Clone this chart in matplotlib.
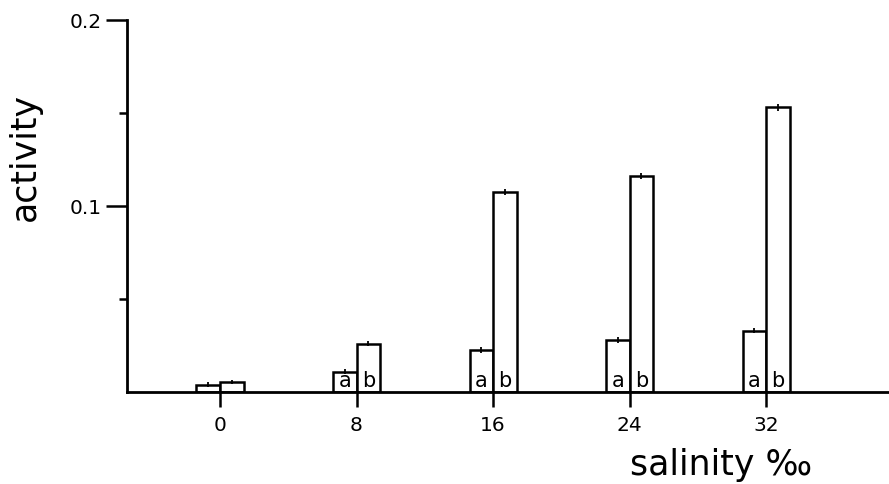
import matplotlib
matplotlib.use("Agg")
import matplotlib.pyplot as plt

salinity = [0, 8, 16, 24, 32]
activity_a = [0.004, 0.011, 0.0225, 0.028, 0.033]
activity_b = [0.0055, 0.026, 0.1075, 0.116, 0.153]
err_a = [0.0012, 0.0015, 0.0015, 0.0015, 0.0015]
err_b = [0.0012, 0.0015, 0.0015, 0.0015, 0.0018]
labelled = [False, True, True, True, True]

plt.rcParams['font.family'] = ['DejaVu Sans']

fig = plt.figure(figsize=(8.89, 4.84), dpi=100)
ax = fig.add_axes([127/889, 92/484, 1 - 127/889, 372/484])

w = 1.38
xa = [s - w/2 for s in salinity]
xb = [s + w/2 for s in salinity]
ax.bar(xa, activity_a, width=w, color='white', edgecolor='black', linewidth=1.8, zorder=2)
ax.bar(xb, activity_b, width=w, color='white', edgecolor='black', linewidth=1.8, zorder=2)
ax.errorbar(xa, activity_a, yerr=err_a, fmt='none', ecolor='black', elinewidth=1.3, capsize=0, zorder=3)
ax.errorbar(xb, activity_b, yerr=err_b, fmt='none', ecolor='black', elinewidth=1.3, capsize=0, zorder=3)

# a / b letters inside the bars
for i, show in enumerate(labelled):
    if show:
        ax.text(xa[i], 0.0006, 'a', ha='center', va='bottom', fontsize=15, zorder=4)
        ax.text(xb[i], 0.0006, 'b', ha='center', va='bottom', fontsize=15, zorder=4)

ax.set_xlim(-5.45, 39.2)
ax.set_ylim(0, 0.2)
ax.set_xticks(salinity)
ax.set_xticklabels([str(s) for s in salinity])
ax.set_yticks([0.1, 0.2])
ax.set_yticklabels(['0.1', '0.2'])
ax.set_yticks([0.05, 0.15], minor=True)

for side in ['top', 'right']:
    ax.spines[side].set_visible(False)
ax.spines['left'].set_linewidth(2)
ax.spines['bottom'].set_linewidth(2)
ax.tick_params(axis='y', which='major', direction='out', length=15, width=1.8, labelsize=14.5, pad=3)
ax.tick_params(axis='y', which='minor', direction='out', length=6, width=1.8)
ax.tick_params(axis='x', direction='out', length=11, width=1.8, labelsize=14.5, pad=6)

fig.text(25/889, 1 - 157/484, 'activity', rotation=90, ha='center', va='center', fontsize=25)
fig.text(721/889, 1 - 465/484, 'salinity \u2030', ha='center', va='center', fontsize=25)

fig.savefig('out.png', dpi=100)
